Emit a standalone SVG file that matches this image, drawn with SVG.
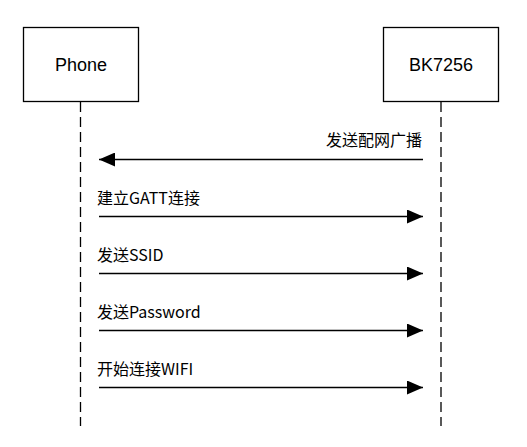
<svg xmlns="http://www.w3.org/2000/svg" width="527" height="447" viewBox="0 0 527 447">
<style>
.box{fill:#fff;stroke:#000;stroke-width:1.3}
.life{stroke:#000;stroke-width:1.3;stroke-dasharray:10 5;fill:none}
.msg{stroke:#000;stroke-width:1.3;fill:none}
.title{font-family:"Liberation Sans","Noto Sans CJK SC",sans-serif;font-size:18px;fill:#000;text-anchor:middle}
.lbl{font-family:"Noto Sans CJK SC","Liberation Sans",sans-serif;font-size:16px;fill:#000}
</style>
<defs>
<marker id="ah" markerWidth="16" markerHeight="14" refX="16" refY="7" orient="auto" markerUnits="userSpaceOnUse">
<path d="M0,0 L16,7 L0,14 Z" fill="#000"/>
</marker>
</defs>
<rect width="527" height="447" fill="#fff"/>
<g id="phone">
<rect class="box" x="23.5" y="27.5" width="115" height="74"/>
<text class="title" x="81" y="70.5">Phone</text>
</g>
<g id="bk7256">
<rect class="box" x="383.5" y="27.5" width="115" height="74"/>
<text class="title" x="441" y="70.5">BK7256</text>
</g>
<g id="connectors">
<line class="life" x1="80.5" y1="102" x2="80.5" y2="426"/>
<line class="life" x1="441" y1="102" x2="441" y2="426"/>
<line class="msg" x1="423" y1="159.5" x2="99" y2="159.5" marker-end="url(#ah)"/>
<line class="msg" x1="99" y1="216.5" x2="423" y2="216.5" marker-end="url(#ah)"/>
<line class="msg" x1="99" y1="273.5" x2="423" y2="273.5" marker-end="url(#ah)"/>
<line class="msg" x1="99" y1="330.5" x2="423" y2="330.5" marker-end="url(#ah)"/>
<line class="msg" x1="99" y1="387.5" x2="423" y2="387.5" marker-end="url(#ah)"/>
<text class="lbl" x="422" y="146" text-anchor="end">发送配网广播</text>
<text class="lbl" x="97" y="203.5">建立GATT连接</text>
<text class="lbl" x="97" y="260.5">发送SSID</text>
<text class="lbl" x="97" y="317.5">发送Password</text>
<text class="lbl" x="97" y="374.5">开始连接WIFI</text>
</g>
</svg>
